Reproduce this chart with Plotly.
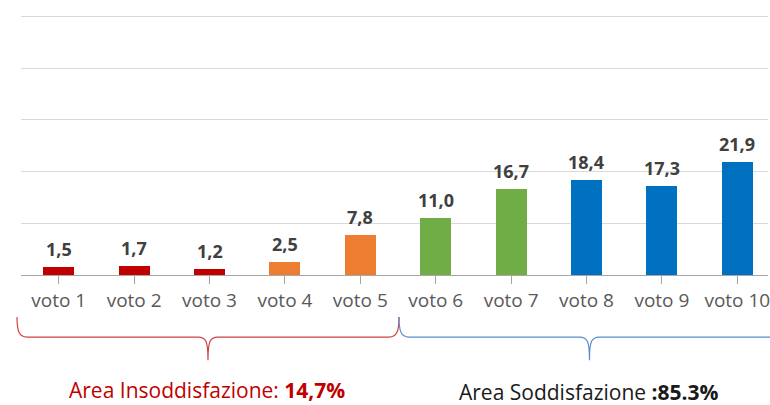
import plotly.graph_objects as go

categories = ["voto 1", "voto 2", "voto 3", "voto 4", "voto 5",
              "voto 6", "voto 7", "voto 8", "voto 9", "voto 10"]
values = [1.5, 1.7, 1.2, 2.5, 7.8, 11.0, 16.7, 18.4, 17.3, 21.9]
bar_colors = ["#C00000", "#C00000", "#C00000", "#ED7D31", "#ED7D31",
              "#70AD47", "#70AD47", "#0070C0", "#0070C0", "#0070C0"]
y_ticks = [0, 10, 20, 30, 40, 50]
area_low_label = "Area Insoddisfazione: "
area_low_value = "14,7%"
area_high_label = "Area Soddisfazione "
area_high_value = ":85.3%"

W, H = 770, 405
y_max = 50.3
px_per_unit = 5.16
L, R, B = 21, 770, 275  # plot area in pixels
T = B - y_max * px_per_unit
cat_w = 75.6
x_range = [-0.5, -0.5 + (R - L) / cat_w]

FONT = "Open Sans"

def to_paper(px, py):
    return (px - L) / (R - L), (B - py) / (B - T)

def brace_path(x0, x1, ytop=317, ymid=337, ytip=360, r=10):
    xc = (x0 + x1) / 2
    pts = [
        ("M", [(x0, ytop)]),
        ("C", [(x0, ymid - 6), (x0 + 2, ymid), (x0 + r, ymid)]),
        ("L", [(xc - r, ymid)]),
        ("C", [(xc - 2, ymid), (xc, ymid + 4), (xc, ytip)]),
        ("C", [(xc, ymid + 4), (xc + 2, ymid), (xc + r, ymid)]),
        ("L", [(x1 - r, ymid)]),
        ("C", [(x1 - 2, ymid), (x1, ymid - 6), (x1, ytop)]),
    ]
    s = ""
    for cmd, ps in pts:
        s += cmd + " " + " ".join("%.5f,%.5f" % to_paper(a, b) for a, b in ps) + " "
    return s.strip(), xc

fig = go.Figure()
fig.add_trace(go.Bar(
    x=list(range(len(categories))),
    y=values,
    marker=dict(color=bar_colors, line=dict(width=0)),
    width=0.41,
    hoverinfo="skip",
))

# value labels above bars
for i, v in enumerate(values):
    fig.add_annotation(x=i, y=v, xref="x", yref="y",
                       text=("%.1f" % v).replace(".", ","),
                       showarrow=False, xanchor="center", yanchor="bottom",
                       yshift=4,
                       font=dict(family=FONT, size=18, color="#404040", weight=700))

# braces
p_low, xc_low = brace_path(17, 400)
p_high, xc_high = brace_path(400, 782)
fig.add_shape(type="path", path=p_low, xref="paper", yref="paper",
              line=dict(color="#D04040", width=1.2))
fig.add_shape(type="path", path=p_high, xref="paper", yref="paper",
              line=dict(color="#5B8BD0", width=1.2))

ax_low, ay_low = to_paper(xc_low - 1, 390)
ax_high, ay_high = to_paper(xc_high, 392)
fig.add_annotation(x=ax_low, y=ay_low, xref="paper", yref="paper",
                   text=area_low_label + "<b>" + area_low_value + "</b>",
                   showarrow=False, xanchor="center", yanchor="middle",
                   font=dict(family=FONT, size=21, color="#C00000"))
fig.add_annotation(x=ax_high, y=ay_high, xref="paper", yref="paper",
                   text=area_high_label + "<b>" + area_high_value + "</b>",
                   showarrow=False, xanchor="center", yanchor="middle",
                   font=dict(family=FONT, size=21, color="#1A1A1A"))

fig.update_layout(
    width=W, height=H,
    margin=dict(l=L, r=W - R, t=T, b=H - B, pad=0),
    plot_bgcolor="white", paper_bgcolor="white",
    showlegend=False,
    bargap=0,
)
fig.update_xaxes(
    range=x_range,
    tickmode="array",
    tickvals=list(range(len(categories))),
    ticktext=categories,
    ticklabeloverflow="allow",
    showline=True, linecolor="#A6A6A6", linewidth=1,
    ticks="outside", ticklen=8, tickcolor="#A6A6A6",
    showgrid=False, zeroline=False,
    tickfont=dict(family=FONT, size=19, color="#595959"),
)
fig.update_yaxes(
    range=[0, y_max],
    tickvals=y_ticks,
    showticklabels=False,
    showgrid=True, gridcolor="#D9D9D9", gridwidth=1,
    zeroline=False, showline=False,
)

fig.write_html("out.html",
               config={"displayModeBar": False, "staticPlot": True},
               post_script="document.body.style.margin='0';document.body.style.overflow='hidden';")
